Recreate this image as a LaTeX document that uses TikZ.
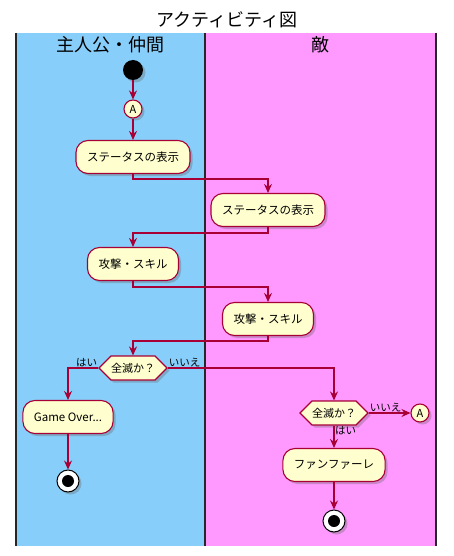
\documentclass[tikz,border=0pt]{standalone}
\usepackage{fontspec}
\setmainfont{Noto Sans CJK JP}
\usetikzlibrary{arrows.meta,shapes.geometric,shapes.symbols,shadows,positioning,calc}
\definecolor{umlred}{HTML}{A80036}
\definecolor{umlfill}{HTML}{FEFECE}
\definecolor{laneblue}{HTML}{87CEFA}
\definecolor{lanepink}{HTML}{FF99FF}
\tikzset{
    umlshadow/.style={
        drop shadow={shadow xshift=2.5pt, shadow yshift=-2.5pt, opacity=0.35, fill=black!60}
    },
    activity/.style={
        rectangle,
        rounded corners=12pt,
        draw=umlred,
        line width=1.1pt,
        fill=umlfill,
        umlshadow,
        minimum height=33pt,
        inner xsep=11pt,
        font=\fontsize{11.5}{13}\selectfont
    },
    decision/.style={
        signal,
        signal to=east and west,
        draw=umlred,
        line width=1.1pt,
        fill=umlfill,
        umlshadow,
        minimum height=24pt,
        inner xsep=0pt,
        font=\fontsize{11}{13}\selectfont
    },
    connector/.style={
        circle,
        draw=umlred,
        line width=1.1pt,
        fill=umlfill,
        umlshadow,
        minimum size=18pt,
        inner sep=0pt,
        font=\fontsize{11}{13}\selectfont
    },
    startnode/.style={
        circle,
        fill=black,
        umlshadow,
        minimum size=20pt,
        inner sep=0pt
    },
    endnode/.style={
        circle,
        draw=black,
        line width=1pt,
        fill=white,
        umlshadow,
        minimum size=22pt,
        inner sep=0pt,
        path picture={\fill[black] (path picture bounding box.center) circle (6pt);}
    },
    flow/.style={
        draw=umlred,
        line width=1.2pt,
        -{Stealth[length=9pt,width=8pt,inset=3pt]}
    },
    guard/.style={
        inner sep=1pt,
        font=\fontsize{10.5}{12}\selectfont
    }
}

\begin{document}
\begin{tikzpicture}[x=1pt, y=-1pt]
    \useasboundingbox (0,0) rectangle (454,556);

    % Swimlanes
    \fill[laneblue] (16,33) rectangle (205,546);
    \fill[lanepink] (205,33) rectangle (436,546);
    \draw[line width=1.3pt, black!85] (16,33) -- (16,546)
                                      (205,33) -- (205,546)
                                      (436,33) -- (436,546);

    \node[font=\fontsize{18}{20}\selectfont] (title) at (227,20) {アクティビティ図};
    \node[font=\fontsize{18}{20}\selectfont] (laneA) at (110,45) {主人公・仲間};
    \node[font=\fontsize{18}{20}\selectfont] (laneB) at (320,45) {敵};

    % Nodes
    \node[startnode] (start) at (133,70) {};
    \node[connector] (A1) at (133,109) {A};
    \node[activity] (stat1) at (133,157) {ステータスの表示};
    \node[activity] (stat2) at (268,210) {ステータスの表示};
    \node[activity] (atk1) at (133,264) {攻撃・スキル};
    \node[activity] (atk2) at (268,319) {攻撃・スキル};
    \node[decision] (chk1) at (133,368) {全滅か？};
    \node[activity] (over) at (68,417) {Game Over...};
    \node[endnode] (end1) at (68,481) {};
    \node[decision] (chk2) at (334,413) {全滅か？};
    \node[connector] (A2) at (420,413) {A};
    \node[activity] (fanfare) at (334,465) {ファンファーレ};
    \node[endnode] (end2) at (334,521) {};

    % Flows
    \draw[flow] (start) -- (A1);
    \draw[flow] (A1) -- (stat1);
    \draw[flow] (stat1.south) -- ++(0,5) -| (stat2.north);
    \draw[flow] (stat2.south) -- ++(0,6) -| (atk1.north);
    \draw[flow] (atk1.south) -- ++(0,6) -| (atk2.north);
    \draw[flow] (atk2.south) -- ++(0,5) -| (chk1.north);
    \draw[flow] (chk1.west) -| (over.north);
    \draw[flow] (chk1.east) -| (chk2.north);
    \draw[flow] (over) -- (end1);
    \draw[flow] (chk2.east) -- (A2.west);
    \draw[flow] (chk2.south) -- (fanfare.north);
    \draw[flow] (fanfare) -- (end2);

    % Guards
    \node[guard, anchor=south east] (yes1) at (chk1.west) {はい};
    \node[guard, anchor=south west] (no1) at (chk1.east) {いいえ};
    \node[guard, anchor=south west] (no2) at (chk2.east) {いいえ};
    \node[guard, anchor=north west] (yes2) at (chk2.south) {はい};
\end{tikzpicture}
\end{document}
